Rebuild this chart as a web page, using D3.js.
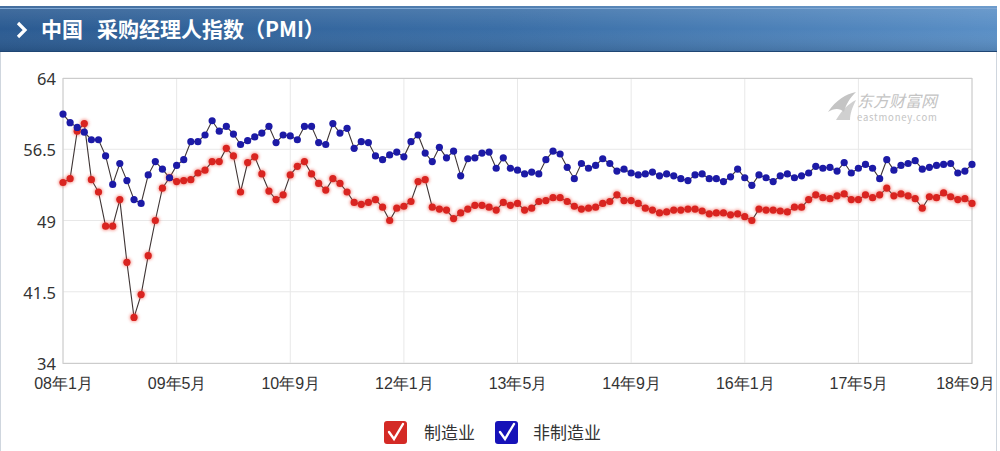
<!DOCTYPE html>
<html><head><meta charset="utf-8">
<script src="https://cdn.jsdelivr.net/npm/d3@7/dist/d3.min.js"></script>
<style>
html,body{margin:0;padding:0;background:#fff;}
svg{display:block;font-family:"Noto Sans CJK SC","Noto Sans",sans-serif;}
</style></head>
<body>
<svg id="c" width="1000" height="451"></svg>
<script>
const titleMain = "中国";
const titleSub = "采购经理人指数（PMI）";
const seriesNames = ["制造业", "非制造业"];
const xTickLabels = ["08年1月","09年5月","10年9月","12年1月","13年5月","14年9月","16年1月","17年5月","18年9月"];
const xTickIndex = [0,16,32,48,64,80,96,112,128];
const yTicks = [34, 41.5, 49, 56.5, 64];

// 制造业 PMI, monthly Jan 2008 – Sep 2018
const manufacturing = [
 53.0,53.4,58.4,59.2,53.3,52.0,48.4,48.4,51.2,44.6,38.8,41.2,
 45.3,49.0,52.4,53.5,53.1,53.2,53.3,54.0,54.3,55.2,55.2,56.6,
 55.8,52.0,55.1,55.7,53.9,52.1,51.2,51.7,53.8,54.7,55.2,53.9,
 52.9,52.2,53.4,52.9,52.0,50.9,50.7,50.9,51.2,50.4,49.0,50.3,
 50.5,51.0,53.1,53.3,50.4,50.2,50.1,49.2,49.8,50.2,50.6,50.6,
 50.4,50.1,50.9,50.6,50.8,50.1,50.3,51.0,51.1,51.4,51.4,51.0,
 50.5,50.2,50.3,50.4,50.8,51.0,51.7,51.1,51.1,50.8,50.3,50.1,
 49.8,49.9,50.1,50.1,50.2,50.2,50.0,49.7,49.8,49.8,49.6,49.7,
 49.4,49.0,50.2,50.1,50.1,50.0,49.9,50.4,50.4,51.2,51.7,51.4,
 51.3,51.6,51.8,51.2,51.2,51.7,51.4,51.7,52.4,51.6,51.8,51.6,
 51.3,50.3,51.5,51.4,51.9,51.5,51.2,51.3,50.8
];
// 非制造业 PMI, monthly Jan 2008 – Sep 2018
const nonManufacturing = [
 60.2,59.3,58.8,58.3,57.5,57.5,55.8,52.8,55.0,53.2,51.2,50.8,
 53.8,55.2,54.4,53.5,54.8,55.4,57.3,57.3,58.0,59.5,58.4,58.9,
 58.1,57.0,57.4,57.8,58.2,58.9,57.2,58.0,57.9,57.5,58.9,58.9,
 57.2,57.0,59.2,58.2,58.7,56.6,57.3,57.2,55.8,55.4,55.9,56.2,
 55.7,57.3,58.0,56.1,55.2,56.7,55.6,56.3,53.7,55.5,55.6,56.1,
 56.2,54.5,55.6,54.5,54.3,53.9,54.1,53.9,55.4,56.3,56.0,54.6,
 53.4,55.0,54.5,54.8,55.5,55.0,54.2,54.4,54.0,53.8,53.9,54.1,
 53.7,53.9,53.7,53.4,53.2,53.8,53.9,53.4,53.4,53.1,53.6,54.4,
 53.5,52.7,53.8,53.5,53.1,53.7,53.9,53.5,53.7,54.0,54.7,54.5,
 54.6,54.2,55.1,54.0,54.5,54.9,54.5,53.4,55.4,54.3,54.8,55.0,
 55.3,54.4,54.6,54.8,54.9,55.0,54.0,54.2,54.9
];

const svg = d3.select("#c");
const defs = svg.append("defs");

const hg = defs.append("linearGradient").attr("id","hg").attr("x1","0").attr("x2","1").attr("y1","0").attr("y2","0");
hg.append("stop").attr("offset","0").attr("stop-color","#2b5b92");
hg.append("stop").attr("offset","0.5").attr("stop-color","#3a6ea6");
hg.append("stop").attr("offset","1").attr("stop-color","#5a8fc6");
const hv = defs.append("linearGradient").attr("id","hv").attr("x1","0").attr("x2","0").attr("y1","0").attr("y2","1");
hv.append("stop").attr("offset","0").attr("stop-color","#ffffff").attr("stop-opacity",0.12);
hv.append("stop").attr("offset","0.5").attr("stop-color","#ffffff").attr("stop-opacity",0.0);
hv.append("stop").attr("offset","1").attr("stop-color","#000000").attr("stop-opacity",0.12);

const glow = defs.append("filter").attr("id","glow").attr("x","-50%").attr("y","-50%").attr("width","200%").attr("height","200%");
glow.append("feGaussianBlur").attr("stdDeviation",1.6);

// outer frame
svg.append("rect").attr("x",0.5).attr("y",6.5).attr("width",996).attr("height",450)
  .attr("fill","#fff").attr("stroke","#cfd6de");

// header
svg.append("rect").attr("x",0).attr("y",6).attr("width",997).attr("height",46).attr("fill","url(#hg)");
svg.append("rect").attr("x",0).attr("y",6).attr("width",997).attr("height",46).attr("fill","url(#hv)");
svg.append("line").attr("x1",0).attr("x2",997).attr("y1",8.5).attr("y2",8.5).attr("stroke","#7fa7d3").attr("stroke-width",1);
svg.append("line").attr("x1",0).attr("x2",997).attr("y1",51.5).attr("y2",51.5).attr("stroke","#1f4674").attr("stroke-width",1);
svg.append("path").attr("d","M18,23 L25,30 L18,37").attr("fill","none").attr("stroke","#fff")
  .attr("stroke-width",3.2).attr("stroke-linejoin","miter");
svg.append("text").attr("x",41).attr("y",37).attr("fill","#fff").attr("font-size",21).attr("font-weight","bold")
  .text(titleMain);
svg.append("text").attr("x",97).attr("y",37).attr("fill","#fff").attr("font-size",21).attr("font-weight","bold")
  .text(titleSub);

// plot
const L = 63, R = 972, T = 78, B = 363;
const n = manufacturing.length;
const x = d3.scaleLinear().domain([0, n-1]).range([L, R]);
const y = d3.scaleLinear().domain([34, 64]).range([B, T]);

const g = svg.append("g");
g.selectAll(".hg").data(yTicks).join("line")
  .attr("x1",L).attr("x2",R).attr("y1",d=>y(d)).attr("y2",d=>y(d))
  .attr("stroke","#e8e8e8").attr("stroke-width",1);
g.selectAll(".vg").data(xTickIndex).join("line")
  .attr("x1",d=>x(d)).attr("x2",d=>x(d)).attr("y1",T).attr("y2",B)
  .attr("stroke","#e8e8e8").attr("stroke-width",1);

// watermark
const wm = g.append("g").attr("fill","#c4c4c4");
wm.append("path").attr("d","M828,112 C836,100 846,94 856,92 C850,98 846,104 844,112 C840,108 834,108 828,112 Z");
wm.append("path").attr("d","M836,120 C842,110 848,104 856,100 C852,108 850,114 850,120 Z").attr("opacity",0.8);
wm.append("text").attr("x",857).attr("y",107).attr("font-size",16).attr("font-style","italic").text("东方财富网");
wm.append("text").attr("x",857).attr("y",121).attr("font-size",9.5).attr("letter-spacing",0.8).text("eastmoney.com");

// border
g.append("rect").attr("x",L).attr("y",T+0.5).attr("width",R-L).attr("height",B-T)
  .attr("fill","none").attr("stroke","#cccccc");

// axes
const yAxis = d3.axisLeft(y).tickValues(yTicks).tickSize(0).tickPadding(7).tickFormat(d=>String(d));
const ya = svg.append("g").attr("transform",`translate(${L},0)`).call(yAxis);
ya.select(".domain").remove();
ya.selectAll("text").attr("font-size",16.5).attr("fill","#333").attr("dy","0.4em")
  .attr("font-family",'"Noto Sans","DejaVu Sans",sans-serif');

const xAxis = d3.axisBottom(x).tickValues(xTickIndex).tickSize(0).tickPadding(15)
  .tickFormat((d,i)=>xTickLabels[i]);
const xa = svg.append("g").attr("transform",`translate(0,${B})`).call(xAxis);
xa.select(".domain").remove();
xa.selectAll("text").attr("font-size",16).attr("fill","#333")
  .attr("dx",(d,i)=> i === xTickIndex.length-1 ? -7 : 0);

// lines and points
const line = d3.line().x((d,i)=>x(i)).y(d=>y(d));
const series = [
  {name: seriesNames[0], data: manufacturing, color:"#d92420", halo:true},
  {name: seriesNames[1], data: nonManufacturing, color:"#1c1aa6", halo:false}
];
series.forEach(s=>{
  g.append("path").datum(s.data).attr("d",line).attr("fill","none")
    .attr("stroke","#3e3434").attr("stroke-width",1.1);
});
series.forEach(s=>{
  const sg = g.append("g");
  if (s.halo) {
    sg.selectAll(".h").data(s.data).join("circle")
      .attr("cx",(d,i)=>x(i)).attr("cy",d=>y(d)).attr("r",4.6)
      .attr("fill","#f04a3a").attr("opacity",0.5).attr("filter","url(#glow)");
  }
  sg.selectAll(".p").data(s.data).join("circle")
    .attr("cx",(d,i)=>x(i)).attr("cy",d=>y(d)).attr("r",3.6)
    .attr("fill",s.color);
});

// legend
const lg = svg.append("g");
const legItems = [
  {x:384, color:"#d42a25", label:seriesNames[0], tx:424},
  {x:495, color:"#1612b8", label:seriesNames[1], tx:533}
];
legItems.forEach(it=>{
  lg.append("rect").attr("x",it.x).attr("y",421).attr("width",23).attr("height",23).attr("rx",3)
    .attr("fill",it.color);
  lg.append("path").attr("d",`M${it.x+5},${432} L${it.x+10},${439} L${it.x+19},${424}`)
    .attr("fill","none").attr("stroke","#fff").attr("stroke-width",2.4).attr("stroke-linecap","round");
  lg.append("text").attr("x",it.tx).attr("y",439).attr("font-size",17).attr("fill","#333").text(it.label);
});
</script>
</body></html>
